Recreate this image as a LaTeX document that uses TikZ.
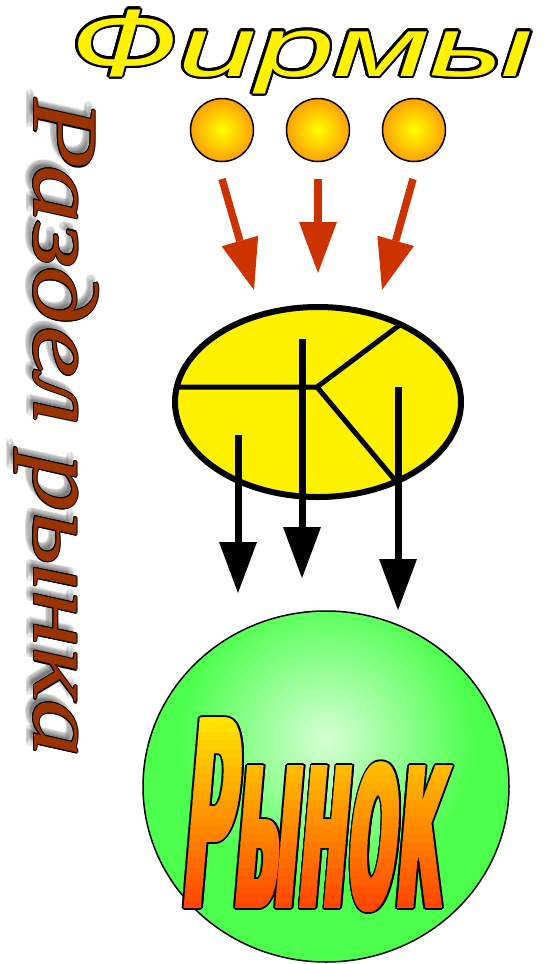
\documentclass[tikz,border=0pt]{standalone}
\usepackage{fontspec}
\usetikzlibrary{arrows.meta,shapes.geometric}
\newfontfamily\firmfont{Liberation Sans}
\newfontfamily\serfont{Liberation Serif}
\newfontfamily\impfont{DejaVu Sans}
\definecolor{arrowred}{HTML}{CC3300}
\definecolor{brownt}{HTML}{993300}
\definecolor{ballorange}{HTML}{FFA000}
\definecolor{greenedge}{HTML}{4CFF4C}
\definecolor{greencenter}{HTML}{D8FFD8}
\newcommand\firmtxt{\resizebox*{108pt}{67pt}{\firmfont\itshape Ф}\resizebox*{355pt}{63pt}{\firmfont\itshape ирмы}}
\newcommand\razdtxt{\resizebox*{658pt}{84pt}{\serfont\itshape Раздел рынка}}
\newcommand\ryntxt{\resizebox*{262pt}{194pt}{\impfont\bfseries Рынок}}
\tikzset{
  txt/.style={inner sep=0pt, outer sep=0pt},
  redarr/.style={draw=arrowred, line width=7.5pt, -{Triangle[length=51pt,width=38pt,line width=0pt]}},
  blkarr/.style={draw=black, line width=7pt, -{Triangle[length=51pt,width=38pt,line width=0pt]}},
  ballstyle/.style={circle, draw=black, line width=1.5pt, minimum size=63pt, inner sep=0pt,
     inner color=yellow, outer color=ballorange}
}
\begin{document}
\begin{tikzpicture}[x=1pt,y=-1pt]
\useasboundingbox (0,0) rectangle (548,964);

% ---- title Firmy
\foreach \a in {0,22.5,...,337.5}{
  \pgfmathsetmacro\dx{2.6*cos(\a)}
  \pgfmathsetmacro\dy{2.6*sin(\a)}
  \node[txt, anchor=base west, text=black, xshift=\dx pt, yshift=\dy pt] at (70,76) {\firmtxt};
}
\node[txt, anchor=base west, text=yellow] (firmy) at (70,76) {\firmtxt};

% ---- side text
\foreach \a in {0,30,...,330}{
  \pgfmathsetmacro\dx{-6+3*cos(\a)}
  \pgfmathsetmacro\dy{-5+3*sin(\a)}
  \node[txt, text=black, opacity=0.06, rotate=-90, xshift=\dx pt, yshift=\dy pt] at (56.5,428) {\razdtxt};
}
\foreach \a in {0,45,...,315}{
  \pgfmathsetmacro\dx{1.1*cos(\a)}
  \pgfmathsetmacro\dy{1.1*sin(\a)}
  \node[txt, text=black, rotate=-90, xshift=\dx pt, yshift=\dy pt] at (56.5,428) {\razdtxt};
}
\node[txt, text=brownt, rotate=-90] (razdel) at (56.5,428) {\razdtxt};

% ---- balls
\node[ballstyle] (b1) at (222,130) {};
\node[ballstyle] (b2) at (318,130) {};
\node[ballstyle] (b3) at (414,130) {};

% ---- red arrows
\coordinate (r1s) at (222,179); \coordinate (r1e) at (254,290);
\coordinate (r2s) at (318,179); \coordinate (r2e) at (318,273);
\coordinate (r3s) at (413,179); \coordinate (r3e) at (382,290);
\draw[redarr] (r1s) -- (r1e);
\draw[redarr] (r2s) -- (r2e);
\draw[redarr] (r3s) -- (r3e);

% ---- yellow ellipse
\fill[yellow] (318,402) ellipse [x radius=143pt, y radius=95pt];
\coordinate (jn) at (317,387);
\coordinate (lf) at (160,387);
\coordinate (ur) at (437,297);
\coordinate (lr) at (425,516);
\begin{scope}
  \clip (318,402) ellipse [x radius=143pt, y radius=95pt];
  \draw[line width=5pt, line join=miter] (lf) -- (jn) -- (ur);
  \draw[line width=5pt] (jn) -- (lr);
\end{scope}
\draw[line width=6pt] (318,402) ellipse [x radius=143pt, y radius=95pt];

% ---- black arrows
\coordinate (k1s) at (238,435); \coordinate (k1e) at (238,593);
\coordinate (k2s) at (302,339); \coordinate (k2e) at (302,578);
\coordinate (k3s) at (398,387); \coordinate (k3e) at (398,610);
\draw[blkarr] (k1s) -- (k1e);
\draw[blkarr] (k2s) -- (k2e);
\draw[blkarr] (k3s) -- (k3e);

% ---- green market circle (manual radial gradient)
\begin{scope}
  \clip (326,786.5) ellipse [x radius=183pt, y radius=175.5pt];
  \fill[greenedge] (326,786.5) ellipse [x radius=183pt, y radius=175.5pt];
  \foreach \i in {0,...,44}{
    \pgfmathsetmacro\rr{150-3.3*\i}
    \pgfmathsetmacro\pp{100*\rr/150}
    \fill[greenedge!\pp!greencenter] (327,740) circle (\rr pt);
  }
\end{scope}
\draw[line width=1.5pt] (326,786.5) ellipse [x radius=183pt, y radius=175.5pt];

% ---- Rynok text
\foreach \a in {0,30,...,330}{
  \foreach \s in {-2,0,2}{
    \pgfmathsetmacro\dx{\s+1.6*cos(\a)}
    \pgfmathsetmacro\dy{1.6*sin(\a)}
    \node[txt, text=black, xslant=0.085, xshift=\dx pt, yshift=\dy pt] at (318.5,815) {\ryntxt};
  }
}
\foreach \i in {0,...,23}{
  \pgfmathsetmacro\ya{715+\i*8.5}
  \pgfmathsetmacro\yb{\ya+9.2}
  \pgfmathsetmacro\gv{0.9-0.65*\i/23}
  \definecolor{bandc}{rgb}{1,\gv,0}
  \begin{scope}
    \clip (150,\ya) rectangle (490,\yb);
    \foreach \s in {-2,-1,0,1,2}{
      \node[txt, text=bandc, xslant=0.085, xshift=\s pt] at (318.5,815) {\ryntxt};
    }
  \end{scope}
}
\node[txt] (rynok) at (318.5,815) {};
\end{tikzpicture}
\end{document}
